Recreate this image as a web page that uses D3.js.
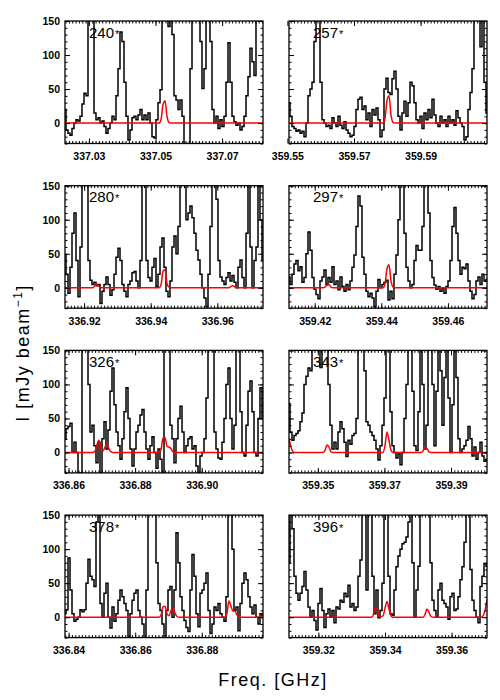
<!DOCTYPE html>
<html>
<head>
<meta charset="utf-8">
<script src="https://cdn.jsdelivr.net/npm/d3@7"></script>
<style>
  body { margin: 0; background: #fff; }
  svg { display: block; font-family: "Liberation Sans", Arial, sans-serif; }
</style>
</head>
<body>
<svg id="chart" width="500" height="700"></svg>
<script>
// panel labels, first channel frequency (GHz) and channel width
const labels = ['240', '257', '280', '297', '326', '343', '378', '396'];
const chanStart = [337.02282, 359.55048, 336.91426, 359.41228, 336.85895, 359.34135, 336.83892, 359.31117];
const chanWidth = 0.0006006;
const xTicks = [
    [337.03, 337.05, 337.07], [359.55, 359.57, 359.59],
    [336.92, 336.94, 336.96], [359.42, 359.44, 359.46],
    [336.86, 336.88, 336.90], [359.35, 359.37, 359.39],
    [336.84, 336.86, 336.88], [359.32, 359.34, 359.36]
];
const yTicks = [0, 50, 100, 150];

// observed spectra (mJy/beam), 100 channels each
const s240 = [20,-10,-15,-18,-8,0,5,3,10,28,
    44,40,160,170,160,15,5,8,0,3,
    -5,-15,-8,0,10,5,40,80,134,120,
    60,10,-25,-10,8,10,5,12,20,5,
    12,5,15,0,-20,-22,5,30,49,160,
    170,160,142,165,130,40,34,20,34,10,
    -30,-35,-30,80,170,170,170,170,120,51,
    80,170,170,120,20,0,10,-8,5,-5,
    10,60,118,60,10,2,-3,0,-10,-5,
    10,40,68,110,90,70,170,170,170,170];
const s257 = [30,10,-5,-8,-12,-10,-15,-12,-20,0,
    40,50,60,120,170,170,60,5,0,-5,
    -3,-8,8,0,-5,10,-3,-8,2,-10,
    -15,-20,-18,-5,20,35,38,20,25,5,
    15,-5,20,12,22,5,-20,-10,50,66,
    45,42,65,76,50,10,-10,15,32,10,
    30,60,55,30,5,0,10,-8,15,5,
    20,8,35,12,0,-5,10,0,5,-5,
    10,0,5,-3,18,8,0,-5,-25,-20,
    20,45,80,160,170,160,112,150,60,15];
const s280 = [48,20,-8,30,80,110,40,-13,60,170,
    170,160,40,11,5,8,3,5,-23,-5,
    5,16,5,-11,-3,20,45,58,40,5,
    -5,-13,5,10,22,24,10,0,40,170,
    170,40,15,10,30,43,2,20,60,73,
    30,-5,-13,10,60,76,50,90,170,170,
    160,100,110,120,103,80,55,41,20,0,
    -15,-28,20,90,170,170,130,40,16,10,
    5,15,22,10,18,8,0,30,41,15,
    0,80,170,60,0,40,60,150,100,40];
const s297 = [16,5,20,35,40,25,31,8,15,50,
    82,55,15,-2,-10,-16,10,16,26,5,
    15,8,31,5,10,-3,16,2,-5,5,
    -3,10,30,48,90,135,120,45,20,-5,
    -13,-8,-15,-28,-5,12,0,5,8,11,
    -18,-5,-16,20,48,100,170,170,80,30,
    10,0,5,40,62,55,55,90,170,170,
    110,40,15,4,-2,2,-5,0,-8,2,
    10,40,90,118,80,40,20,30,28,35,
    10,-5,-16,-10,10,16,5,20,10,12];
const s326 = [20,35,38,43,0,15,0,-35,-30,170,
    170,170,100,30,40,10,-15,15,-30,20,
    45,5,33,90,124,70,30,10,-10,20,
    60,95,50,5,-20,5,30,40,55,63,
    30,5,-10,10,23,0,-23,5,-10,-35,
    170,170,170,40,20,-15,20,50,68,30,
    0,10,20,23,5,10,-20,-30,-5,0,
    20,80,160,170,150,30,5,-8,-10,15,
    50,100,124,50,5,40,150,170,60,0,
    -5,40,90,105,60,0,-5,50,95,50];
const s343 = [72,30,18,25,28,32,45,58,100,112,
    124,120,160,170,170,150,125,170,170,170,
    100,40,5,15,5,30,45,35,15,-6,
    18,12,25,28,50,160,170,170,120,45,
    40,30,25,18,5,-11,10,40,80,150,
    170,60,10,0,-8,-2,-18,0,50,100,
    160,170,90,10,3,60,170,100,5,40,
    170,170,100,10,90,170,120,40,110,170,
    80,0,70,170,110,20,0,5,10,18,
    38,20,-5,8,-10,0,15,-5,-13,-10];
const s378 = [5,11,87,40,5,-6,-3,0,11,8,
    11,50,85,60,55,45,140,170,20,0,
    35,50,0,-16,15,-6,5,25,40,30,
    20,10,-29,5,25,35,40,10,0,-10,
    -40,40,170,170,170,170,80,20,10,-10,
    -35,10,40,45,0,40,124,80,30,10,
    -5,-15,-21,40,92,60,5,-14,35,40,
    50,65,10,-24,-10,15,10,20,5,0,
    -6,30,170,170,100,10,15,-20,20,50,
    65,55,30,15,5,18,0,-10,5,2];
const s396 = [80,170,130,60,35,25,35,45,67,40,
    15,0,10,-5,-19,20,42,10,-15,5,
    12,0,10,-8,15,12,25,22,35,30,
    47,15,20,10,15,60,84,170,160,40,
    170,170,60,5,40,-1,10,50,170,170,
    60,5,3,40,74,90,100,108,110,118,
    140,170,80,0,40,75,150,170,170,170,
    170,80,25,10,0,40,50,25,20,15,
    -3,30,35,10,12,30,55,74,110,170,
    170,70,25,10,0,-8,45,60,79,75];

// model spectra (red), same channels
const m240 = [0,0,0,0,0,0,0,0,0,0, 0,0,0,0,0,0,0,0,0,0, 0,0,0,0,0,0,0,0,0,0, 0,0,0,0,0,0,0,0,0,0,
    0,0,0,0,0,0,0,0,5,27, 33,10,1,0,0,0,0,0,0,0,
    0,0,0,0,0,0,0,0,0,0, 0,0,0,0,0,0,0,0,0,0, 0,0,0,0,0,0,0,0,0,0, 0,0,0,0,0,0,0,0,0,0];
const m257 = [0,0,0,0,0,0,0,0,0,0, 0,0,0,0,0,0,0,0,0,0, 0,0,0,0,0,0,0,0,0,0, 0,0,0,0,0,0,0,0,0,0,
    0,0,0,0,0,0,0,0,7,33, 40,12,1,0,0,0,0,0,0,0,
    0,0,0,0,0,0,0,0,0,0, 0,0,0,0,0,0,0,0,0,0, 0,0,0,0,0,0,0,0,0,0, 0,0,0,0,0,0,0,0,0,0];
const m280 = [0,0,0,0,0,0,0,0,0,0, 0,0,0,0,0,3,5,2,0,0, 0,0,0,0,0,0,0,0,0,0, 0,0,0,0,0,0,0,0,0,0,
    0,0,0,0,0,0,0,0,4,24, 27,6,1,0,0,0,0,0,0,0,
    0,0,0,0,0,0,0,0,0,0, 0,0,0,0,0,0,0,0,0,0, 0,0,0,2,3,1,0,0,0,0, 0,0,0,0,0,0,0,0,0,0];
const m297 = [0,0,0,0,0,0,0,0,0,0, 0,0,0,0,0,0,0,0,1,4, 5,1,0,0,0,0,0,0,0,0, 0,0,0,0,0,0,0,0,0,0,
    0,0,0,0,0,0,0,0,6,28, 34,10,1,0,0,0,0,0,0,0,
    0,0,0,0,0,0,0,0,0,0, 0,0,0,0,0,0,0,0,0,0, 0,0,0,0,0,0,0,0,0,0, 0,0,0,0,0,0,0,0,0,0];
const m326 = [0,0,0,0,0,0,0,0,0,0, 0,0,0,0,0,2,12,18,6,2, 8,13,5,1,0,0,0,0,0,0, 0,0,0,0,0,0,0,0,0,0,
    0,0,0,0,0,0,0,0,4,21, 22,9,8,6,1,0,0,0,0,0,
    0,0,0,0,0,0,0,0,0,0, 0,0,0,0,0,0,0,0,0,0, 0,0,0,0,0,0,0,0,0,0, 0,0,0,0,0,0,0,0,0,0];
const m343 = [21,8,1,0,0,0,0,0,0,0, 0,0,0,0,0,0,0,0,3,11, 8,1,0,0,0,0,0,0,0,0, 0,0,0,0,0,0,0,0,0,0,
    0,0,0,0,0,0,0,0,10,30, 18,3,0,0,0,0,0,0,0,0,
    0,0,0,0,0,0,0,2,8,6, 1,0,0,0,0,0,0,0,0,0, 0,0,0,0,0,0,0,0,0,0, 0,0,0,0,0,0,0,0,0,0];
const m378 = [0,0,0,0,0,0,0,0,0,0, 0,0,0,0,0,0,0,0,0,0, 0,0,0,0,0,0,0,0,0,0, 0,0,0,0,0,0,0,0,0,0,
    0,0,0,0,0,0,0,0,3,15, 16,5,2,10,14,6,1,0,0,0,
    0,0,0,0,0,0,0,0,0,0, 0,0,0,0,0,0,0,0,0,0, 0,6,24,16,9,9,3,1,0,0, 0,0,0,0,0,0,0,0,0,0];
const m396 = [0,0,0,0,0,0,0,0,0,0, 0,0,0,0,0,0,0,0,0,0, 0,0,0,0,0,0,0,0,0,0, 0,0,0,0,0,0,0,0,0,0,
    0,0,2,14,14,2,1,2,13,23, 12,2,0,0,0,0,0,0,0,0,
    0,0,0,0,0,0,0,0,4,12, 7,1,0,0,0,0,0,0,0,0, 0,0,0,0,0,0,0,0,0,0, 0,0,0,0,0,0,0,2,10,26];

const spectra = [s240, s257, s280, s297, s326, s343, s378, s396];
const models = [m240, m257, m280, m297, m326, m343, m378, m396];

const svg = d3.select('#chart');
const panelW = 198, panelH = 122.5;
const colX = [65, 289];
const rowY = [21, 185.7, 350.4, 515.1];

labels.forEach((label, i) => {
    const g = svg.append('g')
        .attr('transform', `translate(${colX[i % 2]},${rowY[Math.floor(i / 2)]})`);

    const x = d3.scaleLinear()
        .domain([chanStart[i], chanStart[i] + 99 * chanWidth])
        .range([0, panelW]);
    const y = d3.scaleLinear()
        .domain([-30, 150])
        .range([panelH, 0]);

    g.append('clipPath').attr('id', 'clip' + i)
        .append('rect').attr('width', panelW).attr('height', panelH);

    const freq = j => chanStart[i] + j * chanWidth;

    const obsLine = d3.line()
        .x((d, j) => x(freq(j)))
        .y(d => y(d))
        .curve(d3.curveStep);
    const modLine = d3.line()
        .x((d, j) => x(freq(j)))
        .y(d => y(d))
        .curve(d3.curveMonotoneX);

    g.append('path')
        .attr('clip-path', `url(#clip${i})`)
        .attr('d', obsLine(spectra[i]))
        .attr('fill', 'none')
        .attr('stroke', '#000')
        .attr('stroke-width', 1.5)
        .attr('stroke-linejoin', 'miter');

    g.append('path')
        .attr('clip-path', `url(#clip${i})`)
        .attr('d', modLine(models[i]))
        .attr('fill', 'none')
        .attr('stroke', '#ff0000')
        .attr('stroke-width', 1.5);

    // ticks, all pointing inward
    const minorX = x.ticks(60);
    const minorY = y.ticks(18);
    const axes = [
        [d3.axisBottom(x).tickValues(minorX).tickSize(-2.5), `translate(0,${panelH})`],
        [d3.axisTop(x).tickValues(minorX).tickSize(-2.5), 'translate(0,0)'],
        [d3.axisBottom(x).tickValues(xTicks[i]).tickSize(-5), `translate(0,${panelH})`],
        [d3.axisTop(x).tickValues(xTicks[i]).tickSize(-5), 'translate(0,0)'],
        [d3.axisLeft(y).tickValues(minorY).tickSize(-2.5), 'translate(0,0)'],
        [d3.axisRight(y).tickValues(minorY).tickSize(-2.5), `translate(${panelW},0)`],
        [d3.axisLeft(y).tickValues(yTicks).tickSize(-5), 'translate(0,0)'],
        [d3.axisRight(y).tickValues(yTicks).tickSize(-5), `translate(${panelW},0)`]
    ];
    axes.forEach(([ax, tr], k) => {
        const showText = (k === 2) || (k === 6 && i % 2 === 0);
        ax.tickSizeOuter(0).tickPadding(k === 2 ? 9 : 5)
            .tickFormat(showText ? (k === 2 ? d3.format('.2f') : d3.format('d')) : '');
        const a = g.append('g').attr('transform', tr).call(ax);
        a.select('.domain').remove();
        a.selectAll('line').attr('stroke', '#000').attr('stroke-width', 1);
        a.selectAll('text')
            .attr('fill', '#000')
            .style('font-family', '"Liberation Sans", Arial, sans-serif')
            .style('font-size', '10.5px')
            .style('font-weight', 'bold');
    });

    g.append('rect')
        .attr('width', panelW).attr('height', panelH)
        .attr('fill', 'none')
        .attr('stroke', '#000')
        .attr('stroke-width', 1.3);

    const t = g.append('text')
        .attr('x', 24).attr('y', 16.5)
        .attr('fill', '#000')
        .style('font-size', '15px');
    t.append('tspan').text(label);
    t.append('tspan').style('font-size', '11px').attr('dx', 1).text('*');
});

// axis titles
const yTitle = svg.append('text')
    .attr('transform', 'translate(29,353) rotate(-90)')
    .attr('text-anchor', 'middle')
    .style('font-size', '18px')
    .style('letter-spacing', '1.5px');
yTitle.append('tspan').text('I [mJy beam');
yTitle.append('tspan').attr('dy', -7).style('font-size', '12px').text('\u22121');
yTitle.append('tspan').attr('dy', 7).text(']');

svg.append('text')
    .attr('x', 273).attr('y', 686)
    .attr('text-anchor', 'middle')
    .style('font-size', '18px')
    .style('letter-spacing', '1.5px')
    .text('Freq. [GHz]');
</script>
</body>
</html>
